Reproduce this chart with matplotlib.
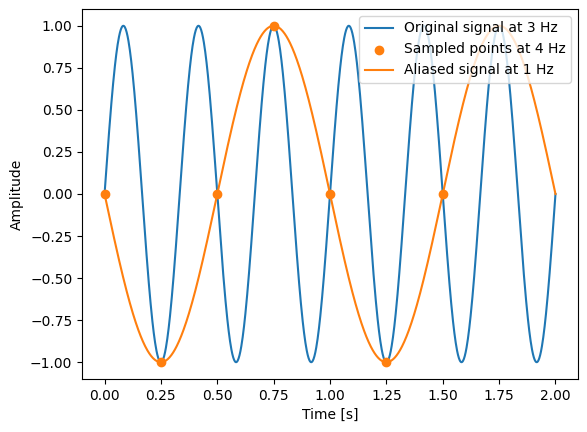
import numpy as np
import matplotlib
matplotlib.use("Agg")
import matplotlib.pyplot as plt

# --- Signal parameters ---
signal_freq = 3   # Hz
sample_freq = 4   # Hz
alias_freq = 1    # Hz
duration = 2.0    # s

# sampled points
sample_times = [0.0, 0.25, 0.5, 0.75, 1.0, 1.25, 1.5]
sample_values = [0.0, -1.0, 0.0, 1.0, 0.0, -1.0, 0.0]

t = np.linspace(0, duration, 1000)
original = np.sin(2 * np.pi * signal_freq * t)
aliased = -np.sin(2 * np.pi * alias_freq * t)

fig = plt.figure(figsize=(5.87, 4.32), dpi=100)
ax = fig.add_axes([0.1397, 0.1227, 0.845, 0.8565])

ax.plot(t, original, color="#1f77b4", label=f"Original signal at {signal_freq} Hz")
ax.scatter(sample_times, sample_values, color="#ff7f0e", zorder=3,
           label=f"Sampled points at {sample_freq} Hz")
ax.plot(t, aliased, color="#ff7f0e", label=f"Aliased signal at {alias_freq} Hz")

ax.set_xlabel("Time [s]")
ax.set_ylabel("Amplitude")
ax.legend(loc="upper right")

fig.savefig("out.png", dpi=100)
